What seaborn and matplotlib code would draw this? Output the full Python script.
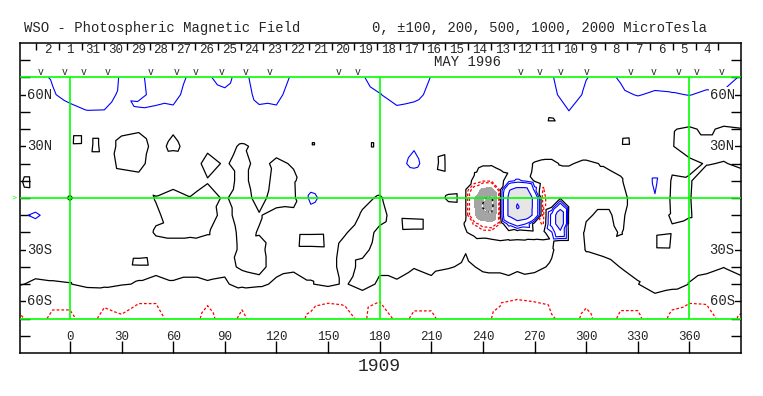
import numpy as np
import matplotlib
matplotlib.use("Agg")
import matplotlib.pyplot as plt
import matplotlib.tri as mtri
import pandas as pd
import seaborn as sns

sns.set_style("white")
plt.rcParams['font.family'] = ['Liberation Mono', 'DejaVu Sans Mono', 'DejaVu Sans']

# ---------------- data: field in microTesla on a 10-degree grid ----------------
lon_grid = list(range(-30, 391, 10))

lat_p70 = [80, 85, 105, 150, 160, 150, 90, 85, 130, 130, 90, 95, 115, 80, 130, 130, 90, 80, 75, 80, 95, 130, 140, 130, 98, 85, 80, 75, 70, 75, 80, 95, 140, 102, 85, 105, 130, 125, 135, 135, 125, 120, 95]
lat_p60 = [60, 65, 95, 120, 130, 130, 85, 80, 125, 115, 80, 80, 90, 70, 120, 115, 75, 65, 60, 60, 75, 97, 125, 118, 85, 70, 65, 60, 55, 60, 65, 85, 130, 90, 70, 90, 103, 92, 95, 102, 90, 92, 75]
lat_p50 = [45, 50, 60, 80, 97, 96, 60, 75, 85, 90, 55, 45, 50, 55, 85, 90, 50, 45, 45, 40, 45, 60, 85, 75, 55, 45, 40, 40, 40, 45, 50, 70, 98, 60, 45, 50, 60, 55, 50, 50, 50, 50, 45]
lat_p40 = [35, 35, 35, 30, 30, 30, 10, 5, 25, 5, 25, 30, 30, 25, 30, 35, 35, 35, 35, 35, 35, 35, 40, 40, 40, 40, 40, 40, 40, 40, 40, 40, 40, 40, 40, 40, 35, 20, 3, -8, 10, -10, -3]
lat_p30 = [35, 35, 35, 25, 30, 30, -15, -20, 15, -10, 15, 10, 12, -5, 8, 20, 30, 35, 35, 35, 35, 35, 70, 95, 60, 35, 40, 40, 40, 40, 30, 25, 20, 20, 25, 25, 30, 25, 2, -20, -20, -20, -15]
lat_p20 = [35, 35, 35, 30, 20, 20, -10, -15, 25, 30, 25, -15, 5, -15, 15, -10, 5, 40, 40, 35, 35, 35, 80, 115, 70, 30, 20, 3, 8, 15, -3, -8, 2, -5, 2, 8, 20, 25, 20, 10, -3, 3, -10]
lat_p10 = [15, 30, 30, 25, 25, 25, 20, 15, 25, 20, 20, 3, 20, -15, 25, -15, -10, 60, 40, 35, 30, 25, 50, 60, 45, 30, 10, -80, -40, 120, -10, -20, -10, -10, -10, -3, 20, 115, -10, -5, 30, 30, 25]
lat_000 = [35, 30, 25, -5, 25, 30, 30, 30, -3, -20, -2, -15, 5, -20, 15, -20, -15, 120, 70, 35, 10, -5, 25, 30, 30, -8, 10, -950, -20, 900, 400, -30, -15, -10, -10, -10, 15, 95, -15, -3, 30, 35, 35]
lat_m10 = [80, 115, 60, 30, 25, 25, 30, 30, 8, -20, -20, -20, 15, -20, -3, 15, 12, 65, 40, 25, -5, -15, 20, 25, 30, 30, 5, -850, -20, 850, 400, 250, -40, -3, 5, -5, 15, 40, -10, -5, 30, 30, 30]
lat_m20 = [-3, 40, 30, 30, 25, 25, 25, 25, -5, -10, -10, -3, 20, -10, 2, 15, 30, 30, 25, 3, -20, 10, 25, 30, 30, 30, 2, -30, -40, -80, -40, 90, -30, 5, 15, -3, 30, 30, 10, 30, 30, 30, 30]
lat_m30 = [20, 25, 25, 25, 25, 25, 25, 25, 20, 20, 25, 20, 20, -8, -10, 20, 25, 25, 20, -15, -10, 15, 25, 30, 30, 30, 3, 25, 25, 20, 20, 5, -25, 2, 10, 20, 25, 30, 25, 20, 20, 20, 20]
lat_m40 = [20, 20, 20, 20, 20, 20, 20, 15, 15, 15, 15, 15, 10, -5, -10, 15, 10, 10, 15, -15, 10, 15, 15, 3, 15, 5, -10, 8, 8, 15, 10, -5, -20, -15, -15, 1, 15, 25, 25, 15, 10, 1, 10]
lat_m50 = [5, -9, -5, -2, 17, 20, 5, -4, -15, -4, -10, -4, -7, 20, 12, -10, -23, -3, 15, -8, 40, -15, -6, -30, -15, -45, -30, -20, -15, -40, -20, -30, -30, -30, -30, -20, -4, 80, 40, -2, -15, -30, -10]
lat_m60 = [-85, -70, -90, -90, -70, -92, -85, -97, -97, -70, -70, -95, -70, -92, -70, -70, -70, -85, -95, -90, -70, -99, -70, -90, -90, -70, -70, -70, -92, -108, -98, -85, -70, -92, -70, -93, -93, -70, -92, -96, -94, -70, -85]
lat_m70 = [-110, -80, -110, -110, -80, -114, -105, -120, -120, -80, -80, -115, -80, -108, -80, -80, -80, -110, -140, -125, -80, -160, -80, -108, -108, -80, -80, -80, -120, -190, -160, -105, -80, -112, -80, -106, -106, -80, -108, -130, -125, -80, -106]

coarse_rows = [(70, lat_p70), (60, lat_p60), (50, lat_p50), (40, lat_p40), (30, lat_p30),
               (20, lat_p20), (10, lat_p10), (0, lat_000), (-10, lat_m10), (-20, lat_m20),
               (-30, lat_m30), (-40, lat_m40), (-50, lat_m50), (-60, lat_m60), (-70, lat_m70)]

# active region, 5-degree grid
ar_lon = [230, 235, 240, 245, 250, 255, 260, 265, 270, 275, 280, 285, 290]
ar_p20 = [20, 8, 3, 3, 8, 15, 20, 10, -3, -8, -8, 2, 2]
ar_p15 = [15, 3, -8, -10, -3, 5, 15, 10, -5, -10, -10, -8, -5]
ar_p10 = [10, -5, -80, -80, -40, 60, 120, 80, -10, -70, -20, -15, -10]
ar_p05 = [8, -300, -560, -600, -30, 450, 600, 600, 150, -110, -25, -20, -12]
ar_000 = [8, -460, -950, -1100, -20, 550, 900, 800, 400, -130, -30, -20, -15]
ar_m05 = [8, -470, -1030, -1200, -20, 550, 1050, 800, 400, -130, -20, 350, -20]
ar_m10 = [5, -450, -850, -900, -20, 550, 850, 750, 400, -130, 250, 800, -40]
ar_m15 = [-3, -120, -300, -350, -90, 150, 300, 200, -60, -110, 250, 800, -40]
ar_m20 = [2, -10, -30, -30, -40, -40, -80, -60, -40, -30, 90, 400, -30]
ar_m25 = [10, 12, 15, 8, 2, 8, 15, 10, 8, 5, 10, -30, -30]
ar_m30 = [3, 20, 25, 25, 25, 20, 20, 20, 20, 15, 5, -15, -25]
ar_rows = [(20, ar_p20), (15, ar_p15), (10, ar_p10), (5, ar_p05), (0, ar_000), (-5, ar_m05),
           (-10, ar_m10), (-15, ar_m15), (-20, ar_m20), (-25, ar_m25), (-30, ar_m30)]

# small isolated features
extra_lon = [4, 15, 39, -25, 141, 176, 141, 199, 216, 280, 322, 344, 41]
extra_lat = [33, 32, 54, 9, 31, 31, -23.5, -15.5, 21, 46, 32, -26, -38]
extra_val = [-25, -15, 110, -15, -5, -5, -60, -40, -30, -10, -20, -80, -15]

# observation marks, day labels, axis labels
obs_lon = [-17, -3, 8, 22, 47, 62, 73, 88, 102, 116, 156, 167, 262, 273, 285, 300, 326, 339, 354, 364, 379]
day_labels = ["2", "1"] + [str(d) for d in range(31, 3, -1)]
day_start_lon = -19.7
day_step = 13.22
lon_ticks = list(range(0, 361, 30))
lat_label_vals = [60, 30, -30, -60]
lat_label_txt = ["60N", "30N", "30S", "60S"]
rotation_number = "1909"
month_label = "MAY 1996"

# ---------------- assemble points ----------------
pts = []
for lat, row in coarse_rows:
    for lon, v in zip(lon_grid, row):
        if 230 <= lon <= 290 and -30 <= lat <= 20:
            continue
        pts.append((lon, lat, v))
for lat, row in ar_rows:
    for lon, v in zip(ar_lon, row):
        pts.append((lon, lat, v))
for lon, lat, v in zip(extra_lon, extra_lat, extra_val):
    pts.append((lon, lat, v))
df = pd.DataFrame(pts, columns=["lon", "lat", "B"])
tri = mtri.Triangulation(df["lon"].values, df["lat"].values)
z = df["B"].values.astype(float)

# ---------------- figure ----------------
W, H = 763, 396
fig = plt.figure(figsize=(W / 100, H / 100), dpi=100)
ax = fig.add_axes([20 / W, 1 - 353 / H, 721 / W, 310 / H])
ax.set_xlim(-29, 390)
ax.set_ylim(-90, 90)

lime = "#00ff00"
ax.tricontourf(tri, z, levels=[-1e5, -500], colors=["#a4a4a4"], zorder=1)
ax.tricontourf(tri, z, levels=[500, 1e5], colors=["#e6e6e6"], zorder=1)
ax.tricontour(tri, z, levels=[0], colors="black", linewidths=0.9, zorder=2)
ax.tricontour(tri, z, levels=[100, 200, 500, 1000, 2000], colors="blue", linewidths=0.8, zorder=2)
cs_neg = ax.tricontour(tri, z, levels=[-200, -100], colors="red", linewidths=0.9, zorder=2)
cs_neg.set_linestyle((0, (2.2, 1.6)))
ax.tricontour(tri, z, levels=[-1000], colors="black", linewidths=1.0, zorder=2)
cs_w = ax.tricontour(tri, z, levels=[-1000], colors="white", linewidths=1.0, zorder=2)
cs_w.set_linestyle((0, (2, 2)))

# green reference lines
green_h = pd.DataFrame({"lon": [-29, 390] * 3, "lat": [70, 70, 0, 0, -70, -70], "seg": [0, 0, 1, 1, 2, 2]})
sns.lineplot(data=green_h, x="lon", y="lat", units="seg", estimator=None, color=lime,
             lw=1.2, ax=ax, legend=False, zorder=3)
ax.vlines([0, 180, 360], -70, 70, colors=lime, lw=1.2, zorder=3)
ax.set_xlabel("")
ax.set_ylabel("")

# ticks
ax.set_xticks(lon_ticks)
ax.set_yticks(list(range(-80, 81, 10)))
ax.tick_params(axis="x", direction="in", length=9, width=1, bottom=True, top=False,
               labelbottom=False, color="black")
ax.tick_params(axis="y", direction="in", length=7, width=1, left=True, right=True,
               labelleft=False, color="black")
for s in ax.spines.values():
    s.set_color("black")
    s.set_linewidth(1.1)

for lon in lon_ticks:
    ax.text(lon, -80.7, str(lon), ha="center", va="center", fontsize=9, zorder=5)
ax.text(180, -97.6, rotation_number, ha="center", va="center", fontsize=13, clip_on=False)

for lat, t in zip(lat_label_vals, lat_label_txt):
    ax.text(-25.0, lat, t, ha="left", va="center", fontsize=10, zorder=6,
            bbox=dict(facecolor="white", edgecolor="none", pad=0.3))
    ax.text(386.3, lat, t, ha="right", va="center", fontsize=10, zorder=6,
            bbox=dict(facecolor="white", edgecolor="none", pad=0.3))

# day marks and labels along the top
mark_lon = [day_start_lon + day_step * k for k in range(len(day_labels) + 1)]
ax.vlines(mark_lon, 86, 90, colors="black", lw=1, zorder=5)
for k, lab in enumerate(day_labels):
    ax.text((mark_lon[k] + mark_lon[k + 1]) / 2, 86.2, lab, ha="center", va="center", fontsize=9)
ax.text(231, 79.0, month_label, ha="center", va="center", fontsize=10)
for lon in obs_lon:
    ax.text(lon, 72.9, "v", ha="center", va="center", fontsize=7)

ax.text(-31, 0, ">", color=lime, fontsize=6, ha="right", va="center", clip_on=False)

fig.text(24 / W, 1 - 28 / H, "WSO - Photospheric Magnetic Field", fontsize=10, va="center", ha="left")
fig.text(372 / W, 1 - 28 / H, "0, \u00b1100, 200, 500, 1000, 2000 MicroTesla", fontsize=10,
         va="center", ha="left")

fig.savefig("out.png", dpi=100, facecolor="white")
